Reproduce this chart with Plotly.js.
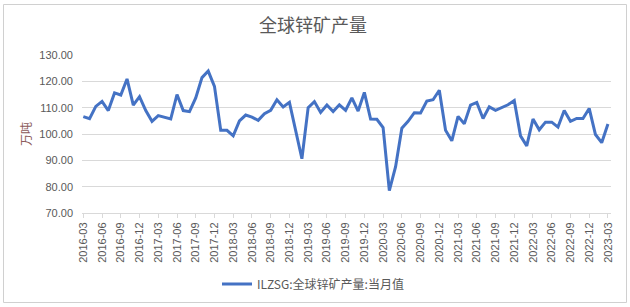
<!DOCTYPE html>
<html>
<head>
<meta charset="utf-8">
<script src="https://cdn.plot.ly/plotly-3.0.1.min.js"></script>
<style>
html,body{margin:0;padding:0;background:#fff;}
#chart{width:630px;height:307px;}
</style>
</head>
<body>
<div id="chart"></div>
<script>
const months = [
 "2016-03","2016-04","2016-05","2016-06","2016-07","2016-08","2016-09","2016-10","2016-11","2016-12",
 "2017-01","2017-02","2017-03","2017-04","2017-05","2017-06","2017-07","2017-08","2017-09","2017-10","2017-11","2017-12",
 "2018-01","2018-02","2018-03","2018-04","2018-05","2018-06","2018-07","2018-08","2018-09","2018-10","2018-11","2018-12",
 "2019-01","2019-02","2019-03","2019-04","2019-05","2019-06","2019-07","2019-08","2019-09","2019-10","2019-11","2019-12",
 "2020-01","2020-02","2020-03","2020-04","2020-05","2020-06","2020-07","2020-08","2020-09","2020-10","2020-11","2020-12",
 "2021-01","2021-02","2021-03","2021-04","2021-05","2021-06","2021-07","2021-08","2021-09","2021-10","2021-11","2021-12",
 "2022-01","2022-02","2022-03","2022-04","2022-05","2022-06","2022-07","2022-08","2022-09","2022-10","2022-11","2022-12",
 "2023-01","2023-02","2023-03"
];
const production = [
 106.6,105.8,110.5,112.4,108.9,115.6,114.8,120.9,111.0,114.2,
 108.9,104.8,107.0,106.3,105.7,115.0,108.9,108.5,113.7,121.4,123.9,118.1,
 101.4,101.4,99.3,105.0,107.2,106.4,105.2,107.7,109.0,113.0,110.3,112.0,
 101.1,90.6,110.0,112.3,108.2,111.0,108.5,111.1,109.0,113.7,108.7,115.8,
 105.7,105.6,102.4,78.5,87.6,102.2,104.8,108.1,108.0,112.5,113.0,116.6,
 101.4,97.4,106.7,103.9,111.0,112.0,105.9,110.3,109.0,110.0,111.1,112.7,
 99.3,95.5,105.7,101.6,104.5,104.5,102.6,108.9,104.8,105.9,105.9,109.7,
 99.8,96.7,103.8
];
const tickLabels = months.filter((m, i) => i % 3 === 0);
const yTicks = [70, 80, 90, 100, 110, 120, 130];

const W = 630, H = 307;
const M = {l: 82, r: 19, t: 55, b: 94};
const pw = W - M.l - M.r, ph = H - M.t - M.b;
const px = v => (v - M.l) / pw;
const py = v => (H - M.b - v) / ph;

const fontFam = '"Noto Sans CJK SC", "Liberation Sans", Arial, sans-serif';

const trace = {
  type: 'scatter',
  mode: 'lines',
  x: months,
  y: production,
  name: 'ILZSG:全球锌矿产量:当月值',
  line: {color: '#4472C4', width: 3}
};

const layout = {
  width: W, height: H,
  margin: M,
  paper_bgcolor: '#ffffff',
  plot_bgcolor: '#ffffff',
  font: {family: fontFam, color: '#595959', size: 11},
  title: {
    text: '全球锌矿产量',
    font: {family: fontFam, size: 18, color: '#595959'},
    x: 313 / W, xref: 'container', xanchor: 'center',
    y: 1 - 26 / H, yref: 'container', yanchor: 'middle'
  },
  xaxis: {
    type: 'category',
    range: [-0.21, 84.49],
    tickmode: 'array',
    tickvals: tickLabels,
    ticktext: tickLabels,
    tickangle: -90,
    ticks: 'outside', ticklen: 4, tickcolor: '#d9d9d9',
    showline: true, linecolor: '#d9d9d9', linewidth: 1,
    showgrid: false, zeroline: false,
    tickfont: {family: '"Liberation Sans", Arial, sans-serif', size: 11, color: '#595959'}
  },
  yaxis: {
    range: [70, 130],
    tickmode: 'array',
    tickvals: yTicks,
    tickformat: '.2f',
    showgrid: true, gridcolor: '#d9d9d9', gridwidth: 1,
    zeroline: false, showline: false, ticks: '',
    ticklabelstandoff: 8,
    tickfont: {family: '"Liberation Sans", Arial, sans-serif', size: 11, color: '#595959'},
    title: {text: '万吨', font: {family: fontFam, size: 12, color: '#8c5a5a'}, standoff: 5}
  },
  showlegend: true,
  legend: {
    orientation: 'h',
    x: 313 / W, xref: 'container', xanchor: 'center',
    y: 1 - 284 / H, yref: 'container', yanchor: 'middle',
    font: {family: fontFam, size: 12, color: '#595959'},
    bgcolor: 'rgba(0,0,0,0)'
  },
  shapes: [{
    type: 'rect', xref: 'paper', yref: 'paper',
    x0: px(3.5), x1: px(626.5), y0: py(302.5), y1: py(4.5),
    line: {color: '#d0d0d0', width: 1}, fillcolor: 'rgba(0,0,0,0)', layer: 'below'
  }]
};

Plotly.newPlot('chart', [trace], layout, {staticPlot: true, displayModeBar: false});
</script>
</body>
</html>
